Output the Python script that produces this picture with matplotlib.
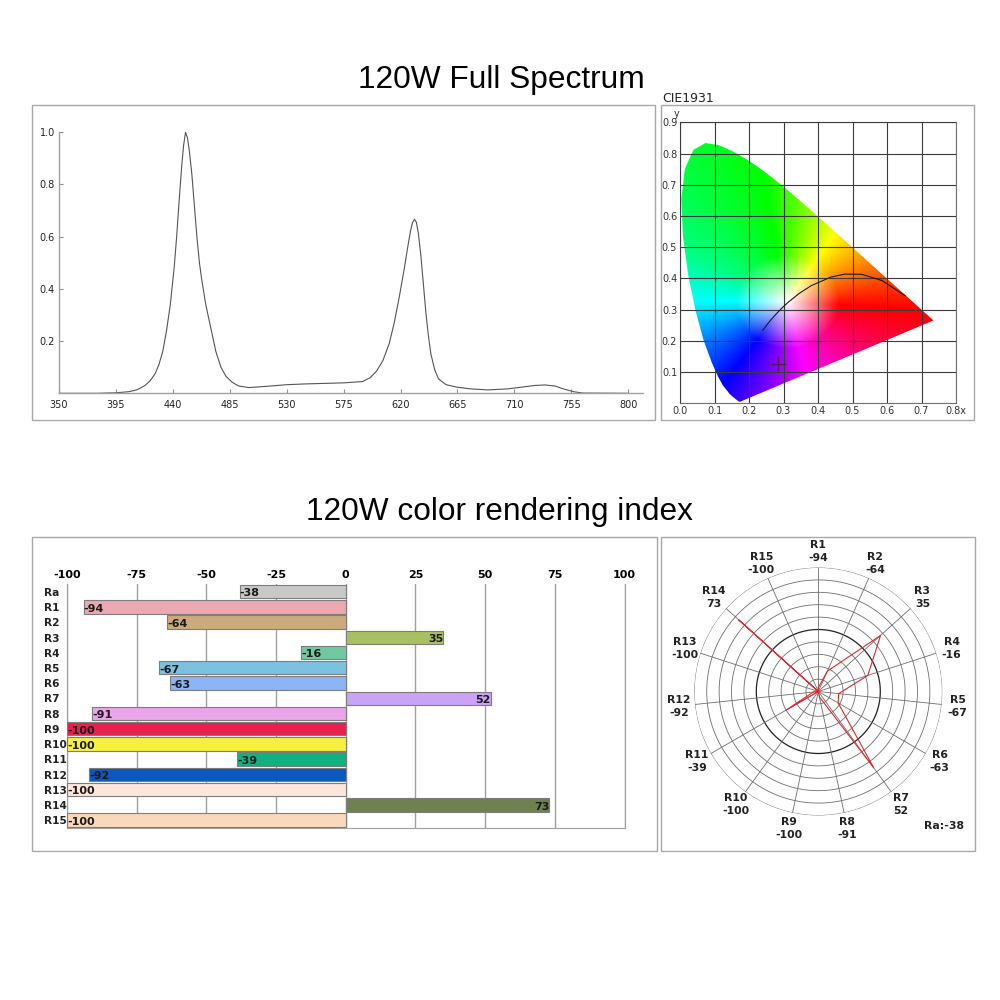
import numpy as np
import matplotlib
matplotlib.use("Agg")
import matplotlib.pyplot as plt
from matplotlib.patches import Rectangle, Polygon
from matplotlib.colors import hsv_to_rgb
import matplotlib.transforms as mtransforms

# ---------------- data ----------------
spec_wl = [350, 380, 395, 405, 412, 418, 422, 426, 429, 432, 435, 438, 441, 443,
           445, 447, 448.5, 450, 451.5, 453, 455, 457, 459, 461, 463, 466, 470,
           474, 478, 482, 487, 492, 500, 515, 530, 545, 560, 575, 590, 596, 601,
           606, 611, 615, 619, 623, 626, 628, 629.5, 631, 632.5, 634, 636, 638,
           640, 642, 644, 647, 650, 656, 664, 675, 689, 705, 718, 726, 734, 742,
           750, 757, 764, 800]
spec_val = [0.0, 0.0, 0.002, 0.006, 0.014, 0.03, 0.048, 0.075, 0.11, 0.16, 0.24,
            0.34, 0.48, 0.6, 0.74, 0.87, 0.95, 1.0, 0.98, 0.93, 0.84, 0.72, 0.6,
            0.5, 0.43, 0.34, 0.25, 0.16, 0.1, 0.065, 0.042, 0.028, 0.022, 0.027,
            0.033, 0.036, 0.038, 0.04, 0.045, 0.06, 0.085, 0.125, 0.19, 0.27, 0.37,
            0.48, 0.57, 0.625, 0.655, 0.667, 0.655, 0.615, 0.53, 0.42, 0.31, 0.22,
            0.15, 0.09, 0.055, 0.033, 0.024, 0.017, 0.013, 0.017, 0.025, 0.03,
            0.032, 0.028, 0.015, 0.006, 0.001, 0.0]
spec_xticks = [350, 395, 440, 485, 530, 575, 620, 665, 710, 755, 800]
spec_yticks = [0.2, 0.4, 0.6, 0.8, 1.0]

# CIE 1931 spectral locus (x, y)
locus_x = [0.1741, 0.1733, 0.1714, 0.1689, 0.1644, 0.1566, 0.1440, 0.1241, 0.1096,
           0.0913, 0.0687, 0.0454, 0.0235, 0.0082, 0.0039, 0.0139, 0.0389, 0.0743,
           0.1142, 0.1547, 0.1929, 0.2296, 0.2658, 0.3016, 0.3373, 0.3731, 0.4087,
           0.4441, 0.4788, 0.5125, 0.5448, 0.5752, 0.6029, 0.6270, 0.6658, 0.6915,
           0.7079, 0.7190, 0.7260, 0.7334, 0.7347]
locus_y = [0.0050, 0.0048, 0.0051, 0.0069, 0.0109, 0.0177, 0.0297, 0.0578, 0.0868,
           0.1327, 0.2007, 0.2950, 0.4127, 0.5384, 0.6548, 0.7502, 0.8120, 0.8338,
           0.8262, 0.8059, 0.7816, 0.7543, 0.7243, 0.6923, 0.6589, 0.6245, 0.5896,
           0.5547, 0.5202, 0.4866, 0.4544, 0.4242, 0.3965, 0.3725, 0.3340, 0.3083,
           0.2920, 0.2809, 0.2740, 0.2666, 0.2653]
# Planckian locus
planck_x = [0.2399, 0.2525, 0.2637, 0.2807, 0.2952, 0.3135, 0.3451, 0.3805, 0.4369,
            0.4770, 0.5267, 0.5857, 0.6528]
planck_y = [0.2341, 0.2522, 0.2674, 0.2884, 0.3048, 0.3236, 0.3516, 0.3768, 0.4041,
            0.4137, 0.4133, 0.3931, 0.3444]
chroma_x = [0.285]
chroma_y = [0.126]
cie_xticks = [0.0, 0.1, 0.2, 0.3, 0.4, 0.5, 0.6, 0.7, 0.8]
cie_yticks = [0.1, 0.2, 0.3, 0.4, 0.5, 0.6, 0.7, 0.8, 0.9]

cri_names = ["Ra", "R1", "R2", "R3", "R4", "R5", "R6", "R7", "R8", "R9", "R10",
             "R11", "R12", "R13", "R14", "R15"]
cri_values = [-38, -94, -64, 35, -16, -67, -63, 52, -91, -100, -100, -39, -92,
              -100, 73, -100]
cri_colors = ["#c8c8c8", "#eca8b0", "#cbab7c", "#a8c062", "#72c8a0", "#7cc2e0",
              "#8cb4f8", "#caa2f8", "#eaa4ea", "#e8204e", "#f8f040", "#10b080",
              "#0a58c0", "#fde6dc", "#718050", "#f9d9bb"]
cri_ticks = [-100, -75, -50, -25, 0, 25, 50, 75, 100]

# ---------------- figure ----------------
fig = plt.figure(figsize=(10, 10), dpi=100)
fig.patch.set_facecolor("white")
plt.rcParams["font.family"] = ["DejaVu Sans"]

border = "#a8a8a8"
for (x0, y0, w, h) in [(0.032, 0.580, 0.623, 0.315), (0.661, 0.580, 0.313, 0.315),
                       (0.032, 0.149, 0.625, 0.314), (0.661, 0.149, 0.314, 0.314)]:
    fig.add_artist(Rectangle((x0, y0), w, h, transform=fig.transFigure,
                             fill=False, ec=border, lw=1))

fig.text(0.501, 0.920, "120W Full Spectrum", ha="center", va="center",
         fontsize=22.8, family="Liberation Sans")
fig.text(0.5, 0.488, "120W color rendering index", ha="center", va="center",
         fontsize=22.8, family="Liberation Sans")
fig.text(0.662, 0.901, "CIE1931", ha="left", va="center", fontsize=9,
         color="#222222")

# ---------------- spectrum ----------------
ax1 = fig.add_axes([0.059, 0.6067, 0.5837, 0.261])
ax1.plot(spec_wl, spec_val, color="#555555", lw=0.8)
ax1.set_xlim(350, 811.4)
ax1.set_ylim(0, 1.0)
ax1.set_xticks(spec_xticks)
ax1.set_yticks(spec_yticks)
ax1.set_yticklabels([f"{v:.1f}" for v in spec_yticks])
for s in ["top", "right"]:
    ax1.spines[s].set_visible(False)
for s in ["left", "bottom"]:
    ax1.spines[s].set_color("#a0a0a0")
    ax1.spines[s].set_linewidth(1.0)
ax1.tick_params(direction="in", length=3, color="#909090", labelsize=7,
                labelcolor="#222222")
ax1.tick_params(axis="x", pad=5)
ax1.tick_params(axis="y", pad=3)

# ---------------- CIE ----------------
ax2 = fig.add_axes([0.680, 0.5967, 0.276, 0.281])
res_x, res_y = 480, 540
gx = np.linspace(0, 0.8, res_x)
gy = np.linspace(0, 0.9, res_y)
XX, YY = np.meshgrid(gx, gy)
xw, yw = 0.31, 0.325
ang = np.degrees(np.arctan2(YY - yw, XX - xw))
ang = ((ang + 4) % 360) - 4
hue_ang = [-4, 58, 100, 150, 180, 235, 283, 356]
hue_val = [0, 60, 120, 150, 180, 240, 300, 360]
hue = np.interp(ang, hue_ang, hue_val) / 360.0
dist = np.hypot(XX - xw, YY - yw)
sat = np.clip(dist / 0.15, 0, 1)
hsv = np.dstack([hue % 1.0, sat, np.ones_like(sat)])
rgb = hsv_to_rgb(hsv)
im = ax2.imshow(rgb, origin="lower", extent=[0, 0.8, 0, 0.9], aspect="auto",
                interpolation="bilinear", zorder=1)
poly = Polygon(np.column_stack([locus_x, locus_y]), closed=True,
               transform=ax2.transData, fc="none", ec="none")
ax2.add_patch(poly)
im.set_clip_path(poly)
ax2.set_xlim(0, 0.8)
ax2.set_ylim(0, 0.9)
ax2.set_xticks(cie_xticks)
ax2.set_yticks(cie_yticks)
ax2.set_xticklabels([f"{v:.1f}" for v in cie_xticks[:-1]] + ["0.8x"])
ax2.set_yticklabels([f"{v:.1f}" for v in cie_yticks])
ax2.grid(True, color="#3a3a3a", lw=0.8, zorder=3)
ax2.set_axisbelow(False)
for s in ax2.spines.values():
    s.set_color("#707070")
    s.set_linewidth(0.8)
ax2.tick_params(length=0, labelsize=7, labelcolor="#333333", pad=2)
ax2.text(-0.002, 0.912, "y", ha="right", va="bottom", fontsize=7,
         color="#333333")
ax2.plot(planck_x, planck_y, color="#1a1a1a", lw=0.8, zorder=4)
ax2.plot(chroma_x, chroma_y, marker="+", ms=11, mew=1.0, color="#4a2448",
         ls="none", zorder=5)

# ---------------- CRI bars ----------------
ax3 = fig.add_axes([0.067, 0.1723, 0.5575, 0.2437])
ypos = np.arange(len(cri_names))
ax3.barh(ypos, cri_values, height=0.88, color=cri_colors, edgecolor="#7d7d7d",
         lw=0.8, zorder=3)
ax3.set_xlim(-100, 100)
ax3.set_ylim(len(cri_names) - 0.5, -0.5)
ax3.set_xticks(cri_ticks)
ax3.set_xticklabels([str(t) for t in cri_ticks], fontweight="bold")
ax3.xaxis.tick_top()
ax3.tick_params(axis="x", length=0, labelsize=8, pad=3)
ax3.set_yticks([])
ax3.grid(True, axis="x", color="#a0a0a0", lw=1, zorder=0)
ax3.spines["top"].set_visible(False)
for s in ["left", "right", "bottom"]:
    ax3.spines[s].set_color("#a0a0a0")
trans = mtransforms.blended_transform_factory(fig.transFigure, ax3.transData)
for i, (n, v) in enumerate(zip(cri_names, cri_values)):
    ax3.text(0.044, i + 0.08, n, transform=trans, ha="left", va="center",
             fontsize=7.6, fontweight="bold", color="#222222")
    if v < 0:
        ax3.text(v, i + 0.12, f"{v}", ha="left", va="center", fontsize=8,
                 fontweight="bold", color="#1a1a1a", zorder=4)
    else:
        ax3.text(v, i + 0.12, f"{v}", ha="right", va="center", fontsize=8,
                 fontweight="bold", color="#1a1a1a", zorder=4)

# ---------------- polar ----------------
ax4 = fig.add_axes([0.6943, 0.1845, 0.248, 0.248], projection="polar")
ax4.set_theta_zero_location("N")
ax4.set_theta_direction(-1)
ax4.set_ylim(0, 1)
ax4.grid(False)
ax4.set_xticks([])
ax4.set_yticks([])
ax4.spines["polar"].set_visible(False)
tt = np.linspace(0, 2 * np.pi, 361)
for k in range(1, 11):
    r = k / 10
    if k == 5:
        ax4.plot(tt, np.full_like(tt, r), color="#222222", lw=0.9)
    else:
        ax4.plot(tt, np.full_like(tt, r), color="#6e6e6e", lw=0.6)
poly_names = cri_names[1:]
poly_vals = cri_values[1:]
angles = np.deg2rad(np.arange(len(poly_names)) * 360 / len(poly_names))
for a in angles:
    ax4.plot([a, a], [0, 1], color="#6e6e6e", lw=0.6)
radii = (np.array(poly_vals) + 100) / 200
ax4.plot(np.append(angles, angles[0]), np.append(radii, radii[0]),
         color="#e02828", lw=0.8, zorder=5)
for a, n, v in zip(angles, poly_names, poly_vals):
    ax4.text(a, 1.13, f"{n}\n{v}", ha="center", va="center", fontsize=7.8,
             fontweight="bold", color="#222222", linespacing=1.35, clip_on=False)
fig.text(0.944, 0.174, f"Ra:{cri_values[0]}", ha="center", va="center",
         fontsize=7.8, fontweight="bold", color="#222222")

fig.savefig("out.png", dpi=100)
